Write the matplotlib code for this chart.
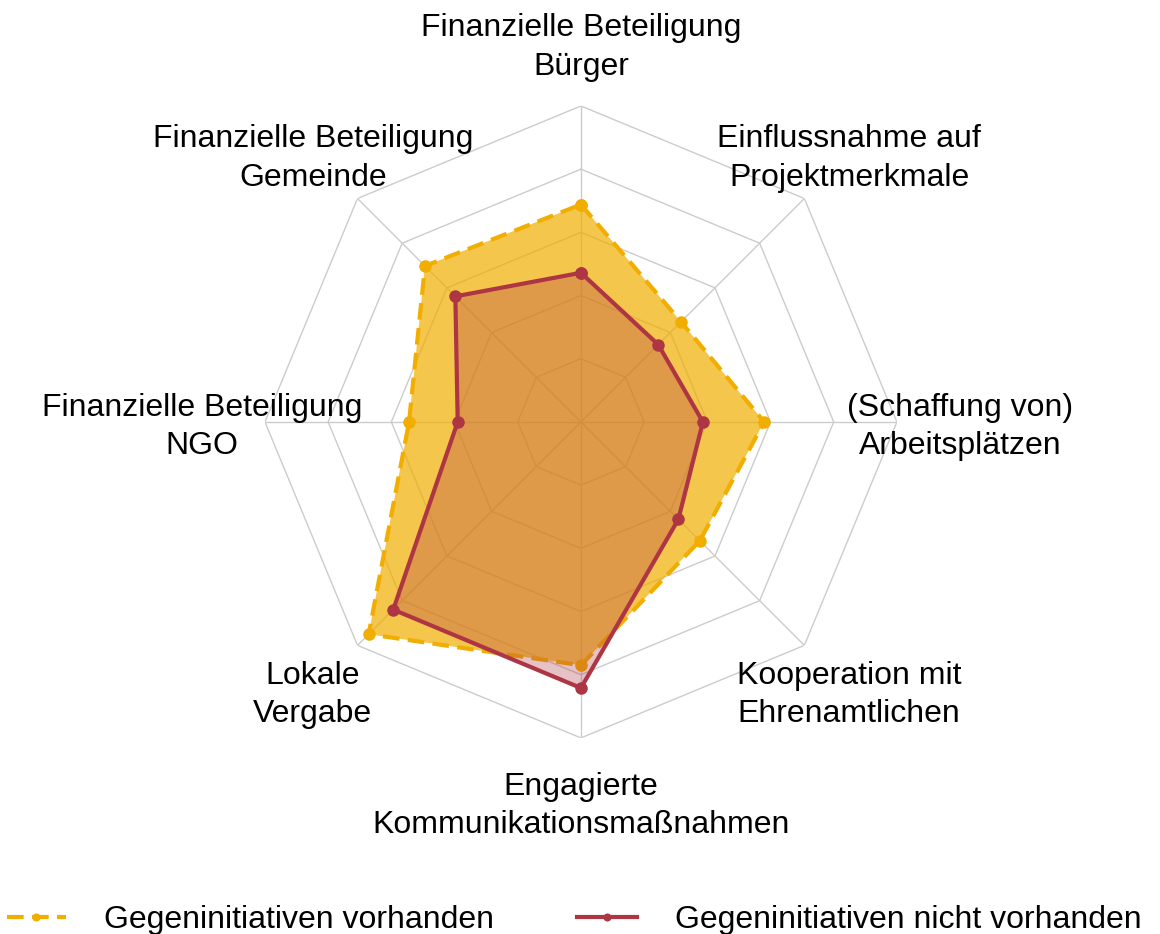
import matplotlib
matplotlib.use("Agg")
import matplotlib.pyplot as plt
import numpy as np

plt.rcParams['font.family'] = ['Liberation Sans', 'DejaVu Sans']

# axis labels, clockwise from the top
categories = [
    'Finanzielle Beteiligung\nBürger',
    'Einflussnahme auf\nProjektmerkmale',
    '(Schaffung von)\nArbeitsplätzen',
    'Kooperation mit\nEhrenamtlichen',
    'Engagierte\nKommunikationsmaßnahmen',
    'Lokale\nVergabe',
    'Finanzielle Beteiligung\nNGO',
    'Finanzielle Beteiligung\nGemeinde',
]

# values (scale 0..5)
vorhanden = [3.44, 2.24, 2.90, 2.66, 3.85, 4.75, 2.72, 3.49]
nicht_vorhanden = [2.36, 1.73, 1.93, 2.18, 4.21, 4.20, 1.95, 2.81]

labels = ['Gegeninitiativen vorhanden', 'Gegeninitiativen nicht vorhanden']
yellow = '#F1AE00'
red = '#AE3543'

n = len(categories)
theta = np.linspace(0, 2 * np.pi, n, endpoint=False)
theta_c = np.append(theta, theta[0])

fig = plt.figure(figsize=(11.6, 9.34), dpi=100)
ax = fig.add_axes([0.2284, 0.2099, 0.5448, 0.6767], projection='polar')
ax.set_theta_zero_location('N')
ax.set_theta_direction(-1)
ax.set_ylim(0, 5)
ax.axis('off')

# octagonal grid
for r in range(1, 6):
    ax.plot(theta_c, [r] * (n + 1), color='#CCCCCC', lw=1, zorder=1)
for t in theta:
    ax.plot([t, t], [0, 5], color='#CCCCCC', lw=1, zorder=1)

v1 = np.append(vorhanden, vorhanden[0])
v2 = np.append(nicht_vorhanden, nicht_vorhanden[0])

ax.fill(theta_c, v1, color=yellow, alpha=0.7, lw=0, zorder=2)
ax.plot(theta_c, v1, color=yellow, lw=3, ls=(0, (4, 2)), marker='o',
        markersize=8, label=labels[0], zorder=3)
ax.fill(theta_c, v2, color=red, alpha=0.3, lw=0, zorder=4)
ax.plot(theta_c, v2, color=red, lw=3, marker='o', markersize=8,
        label=labels[1], zorder=5)

for t, lab in zip(theta, categories):
    ax.annotate(lab, xy=(t, 6.0), xytext=(0, -3.6), textcoords='offset points',
                ha='center', va='center', fontsize=23, linespacing=1.38,
                annotation_clip=False)

fig.legend(loc='center', bbox_to_anchor=(0.495, 0.015), ncol=2, frameon=False,
           fontsize=23, handlelength=1.85, handletextpad=1.2,
           columnspacing=2.6, markerscale=0.6)

fig.savefig('out.png', dpi=100)
